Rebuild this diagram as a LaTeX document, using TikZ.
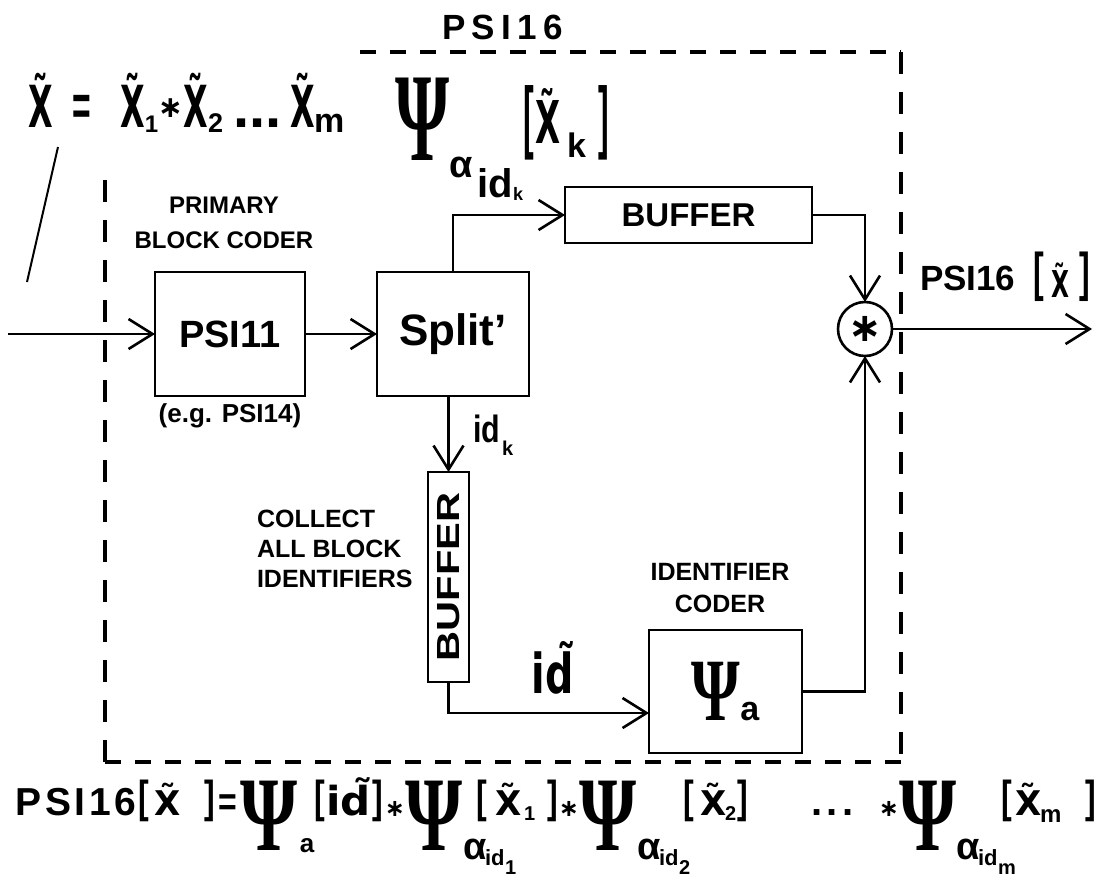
\documentclass[tikz,border=0pt]{standalone}
\usepackage{fontspec}
\setmainfont{Liberation Sans}
\newfontfamily\grk{Liberation Serif}
\newfontfamily\djv{DejaVu Sans}
\usetikzlibrary{arrows.meta}
\newcommand\Fs[1]{\fontsize{#1}{#1}\selectfont\bfseries}
\newcommand\Fsl[2]{\fontsize{#1}{#2}\selectfont\bfseries}
\newcommand\Pc[3]{\makebox[#1pt][l]{\raisebox{#2pt}{#3}}}
\newcommand\Pcc[3]{\makebox[#1pt][c]{\raisebox{#2pt}{#3}}}
\newcommand\TX[2]{{\djv\Fs{#1}\scalebox{#2}[1]{X̃}}}
\newcommand\PsiG[2]{\scalebox{#1}[1]{\fontsize{#2}{#2}\selectfont\grk\bfseries Ψ}}
\newcommand\Bk[3]{\scalebox{0.8}[#2]{\Fs{#1}#3}}
\newcommand\Star[1]{{\djv\Fs{#1}∗}}
\begin{document}
\begin{tikzpicture}[x=0.5pt,y=-0.5pt,
  every node/.style={inner sep=0pt,outer sep=0pt},
  box/.style={draw,line width=1.4pt},
  arr/.style={-{Straight Barb[length=12pt,width=15pt]},line width=1.3pt},
  frameh/.style={line width=1.8pt,dash pattern=on 8pt off 7pt},
  framev/.style={line width=1.6pt,dash pattern=on 11pt off 9pt}]
\useasboundingbox (0,0) rectangle (1097,878);

% dashed frame
\coordinate (fa) at (360,52);
\coordinate (fb) at (901,52);
\coordinate (fc) at (901,762);
\coordinate (fd) at (105,762);
\coordinate (fe) at (105,172);
\draw[frameh] (fa) -- (fb);
\draw[framev] (fb) -- (fc);
\draw[frameh] (fc) -- (fd);
\draw[framev] (fd) -- (fe);

\node (title) at (502.5,27.5) {\makebox[60.5pt][s]{\Fs{17.5}P\hfil S\hfil I\hfil 1\hfil 6}};

% blocks
\node[box,minimum width=75pt,minimum height=62pt] (psi11) at (230,334) {\Fs{19}PSI11};
\node[box,minimum width=76pt,minimum height=62pt] (split) at (453,334) {\Fs{22}Split'};
\node[box,minimum width=123.5pt,minimum height=28pt] (buf1) at (688.5,215) {\Fs{16.5}BUFFER};
\node[box,minimum width=20.5pt,minimum height=105pt] (buf2) at (448.5,577) {\rotatebox{90}{\Fs{16}\scalebox{1.3}[1]{BUFFER}}};
\node[box,minimum width=76.5pt,minimum height=61.5pt] (psia) at (725.5,691.5) {\PsiG{0.7}{44.5}\Fs{17}a};
\node[draw,circle,line width=1.3pt,minimum size=27pt] (circ) at (865,329) {\Star{20}};

% labels
\node[anchor=north,align=center,font=\Fsl{12}{17.5}] (prim) at (224,197) {PRIMARY\\BLOCK CODER};
\node (eg) at (230,416) {\Fs{13}(e.g. PSI14)};
\node[anchor=north west,align=left,font=\Fsl{12.5}{15}] (coll) at (257,510) {COLLECT\\ALL BLOCK\\IDENTIFIERS};
\node[anchor=north,align=center,font=\Fsl{12.5}{16}] (idc) at (720,563) {IDENTIFIER\\CODER};
\node[anchor=base west] (idk) at (473,442) {\Pc{14.5}{0}{\Fs{19}\scalebox{0.8}[1]{id}}\raisebox{-6.5pt}{\Fs{10}k}};
\node[anchor=base] (idt) at (552.5,693) {\djv\Fs{27.5}\scalebox{0.72}[1]{id̃}};

% top-left formula
\node[anchor=base west] (fx) at (28,127) {%
\Pc{22}{0}{\TX{29}{0.55}}%
\Pc{24}{1}{\Fs{29}\scalebox{0.55}[1]{=}}%
\Pc{12.5}{0}{\TX{29}{0.55}}\Pc{6.5}{-2.5}{\Fs{12}1}%
\Pcc{12.5}{5}{\Star{15}}%
\Pc{12.5}{0}{\TX{29}{0.55}}\Pc{12.5}{-2.5}{\Fs{13.5}2}%
\Pc{28.5}{0}{\Fs{29}...}%
\Pc{12}{0}{\TX{29}{0.55}}\raisebox{-2.5pt}{\Fs{17}m}};

% slash leader
\coordinate (s1) at (58,147);
\coordinate (s2) at (27,282);
\draw[line width=1pt] (s1) -- (s2);

% psi alpha label
\node[anchor=base west] (pk) at (395,160) {%
\Pc{27}{0}{\PsiG{0.55}{63}}%
\Pc{14}{-8.5}{\Fs{19}α}%
\Pc{18}{-18.5}{\Fs{20}id}%
\Pc{5}{-20}{\Fs{9}k}%
\Pc{6}{8.4}{\Bk{20}{2}{[}}%
\Pc{16}{8.5}{\TX{29.5}{0.55}}%
\Pc{15.5}{1.5}{\Fs{17}k}%
\raisebox{8.4pt}{\Bk{20}{2}{]}}};

% output label
\node[anchor=base west] (ol) at (920,290) {%
\makebox[56.5pt][l]{\Fs{17.5}PSI16}%
\Pc{9}{0}{\Bk{20}{1.33}{[}}%
\Pc{14}{-3.5}{\TX{18.5}{0.63}}%
\Bk{20}{1.33}{]}};

% bottom formula
\node[anchor=base west] (bf) at (16,815) {%
\makebox[61.5pt][l]{\makebox[60pt][s]{\Fs{19.5}P\hfil S\hfil I\hfil 1\hfil 6}}%
\Pc{8}{1.2}{\Bk{20}{1.12}{[}}%
\Pc{25}{0}{\TX{17}{1}}%
\Pc{6.5}{1.2}{\Bk{20}{1.12}{]}}%
\Pc{11}{0}{\Fs{20}\scalebox{0.8}[1]{=}}%
\Pc{30}{-17.5}{\PsiG{0.69}{53}}%
\Pc{7.5}{-18.5}{\Fs{13}a}%
\Pc{5.5}{1.2}{\Bk{20}{1.12}{[}}%
\Pc{23}{0}{\djv\Fs{20}\scalebox{1.05}[1]{id̃}}%
\Pc{6.5}{1.2}{\Bk{20}{1.12}{]}}%
\Pcc{10}{-0.5}{\Star{12}}%
\Pc{29}{-17.5}{\PsiG{0.69}{53}}%
\rlap{\Pc{11}{-22}{\Fs{19}α}\Pc{10}{-25}{\Fs{11}id}\raisebox{-29.5pt}{\Fs{10}1}}%
\hspace{6.5pt}%
\Pc{9.5}{1.2}{\Bk{20}{1.12}{[}}%
\Pc{14.5}{0}{\TX{17}{1}}%
\Pc{11.5}{-2.5}{\Fs{10}1}%
\Pc{6}{1.2}{\Bk{20}{1.12}{]}}%
\Pcc{10}{-0.5}{\Star{12}}%
\Pc{29}{-17.5}{\PsiG{0.69}{53}}%
\rlap{\Pc{11}{-22}{\Fs{19}α}\Pc{10}{-25}{\Fs{11}id}\raisebox{-29.5pt}{\Fs{10}2}}%
\hspace{23pt}%
\Pc{8.5}{1.2}{\Bk{20}{1.12}{[}}%
\Pc{12.5}{0}{\TX{17}{1}}%
\Pc{6.5}{-2.5}{\Fs{10}2}%
\Pc{6.5}{1.2}{\Bk{20}{1.12}{]}}%
\hspace{30pt}\makebox[21.5pt][s]{\Fs{20}.\hfil.\hfil.}\hspace{12.5pt}%
\Pcc{10}{-0.5}{\Star{12}}%
\Pc{28.5}{-17.5}{\PsiG{0.69}{53}}%
\rlap{\Pc{11}{-22}{\Fs{19}α}\Pc{10}{-25}{\Fs{11}id}\raisebox{-29.5pt}{\Fs{10}m}}%
\hspace{22.5pt}%
\Pc{7}{1.2}{\Bk{20}{1.12}{[}}%
\Pc{12.5}{0}{\TX{17}{1}}%
\Pc{22.5}{-3.5}{\Fs{12}m}%
\raisebox{1.2pt}{\Bk{20}{1.12}{]}}};

% connectors
\coordinate (in) at (8,334);
\coordinate (out) at (1092,329);
\coordinate (psiin) at ([yshift=-10.75pt]psia.west);
\draw[arr] (in) -- (psi11);
\draw[arr] (psi11) -- (split);
\draw[arr] (split.north) |- (buf1.west);
\draw[arr] (buf1.east) -| (circ.north);
\draw[arr] (circ.east) -- (out);
\draw[arr] (split.south -| buf2.north) -- (buf2.north);
\draw[arr] (buf2.south) |- (psiin);
\draw[arr] (psia.east) -| (circ.south);
\end{tikzpicture}
\end{document}
